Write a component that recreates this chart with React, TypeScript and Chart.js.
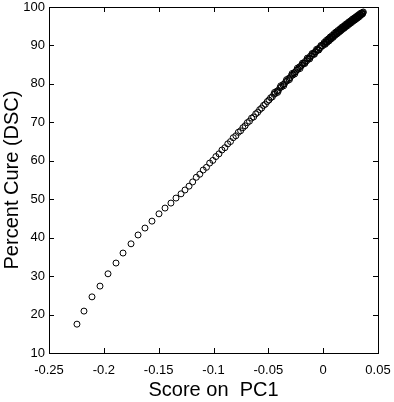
import { useEffect, useRef } from "react";
import { Chart, registerables } from "chart.js";

Chart.register(...registerables);

const xTickValues = [-0.25, -0.2, -0.15, -0.1, -0.05, 0, 0.05];
const xTickLabels = ["-0.25", "-0.2", "-0.15", "-0.1", "-0.05", "0", "0.05"];
const yTickValues = [10, 20, 30, 40, 50, 60, 70, 80, 90, 100];
const yTickLabels = ["10", "20", "30", "40", "50", "60", "70", "80", "90", "100"];

const xTitle = "Score on  PC1";
const yTitle = "Percent Cure (DSC)";

const scoreX = [
  -0.2245, -0.2181, -0.2108, -0.2035, -0.1962, -0.1889, -0.1825, -0.1752, -0.1688, -0.1625,
  -0.1561, -0.1497, -0.1442, -0.1388, -0.1342, -0.1296, -0.126, -0.1223,
  -0.119, -0.1157, -0.1125, -0.1094, -0.1064, -0.1035, -0.1006, -0.0978, -0.095, -0.0923,
  -0.0896, -0.087, -0.0845, -0.082, -0.0796,
  -0.0774, -0.0753, -0.0732, -0.0712, -0.0692, -0.0672, -0.0653, -0.0634, -0.0615, -0.0597,
  -0.0579, -0.0561, -0.0544, -0.0527, -0.051,
  -0.0494, -0.0479, -0.0464, -0.045, -0.0436, -0.0422, -0.0408, -0.0394, -0.038, -0.0367,
  -0.0354, -0.0341, -0.0328, -0.0315, -0.0302, -0.0289, -0.0277, -0.0265, -0.0253, -0.0241,
  -0.0229, -0.0217,
  -0.0205, -0.0194, -0.0183, -0.0172, -0.0161, -0.015, -0.0139, -0.0128, -0.0117, -0.0106,
  -0.0095, -0.0085, -0.0075, -0.0065, -0.0055, -0.0045, -0.0035, -0.0025, -0.0015, -0.0005,
  0.0005, 0.0014, 0.0023, 0.0032, 0.0041, 0.005, 0.0059, 0.0068, 0.0077, 0.0086,
  0.0095, 0.0104, 0.0113, 0.0122, 0.0131, 0.014, 0.0149, 0.0157, 0.0165, 0.0173,
  0.0181, 0.0189, 0.0197, 0.0205, 0.0213, 0.0221, 0.0229, 0.0237, 0.0245, 0.0253,
  0.0261, 0.0269, 0.0277, 0.0285, 0.0293, 0.03, 0.0307, 0.0314, 0.0321, 0.0328,
  0.0335, 0.0342, 0.0349, 0.0356, 0.0363,
];

const cureY = [
  17.5, 20.9, 24.6, 27.4, 30.6, 33.4, 36.0, 38.4, 40.7, 42.5,
  44.3, 46.2, 47.7, 49.0, 50.3, 51.4, 52.4, 53.4,
  54.5, 55.7, 56.5, 57.6, 58.3, 59.4, 60.1, 61.1, 61.8, 62.8,
  63.4, 64.4, 65.0, 66.0, 66.5,
  67.4, 67.8, 68.6, 69.1, 69.9, 70.3, 71.1, 71.4, 72.2, 72.6,
  73.3, 73.7, 74.4, 74.7, 75.4,
  75.8, 76.4, 76.6, 77.3, 77.5, 78.1, 78.3, 79.0, 79.2, 79.8,
  80.0, 80.6, 80.8, 81.4, 81.6, 82.2, 82.3, 82.9, 83.1, 83.6,
  83.8, 84.4,
  84.6, 84.9, 85.3, 85.4, 85.9, 86.0, 86.5, 86.7, 87.2, 87.3,
  87.8, 87.8, 88.3, 88.4, 88.8, 88.9, 89.4, 89.4, 89.9, 89.9,
  90.4, 90.4, 90.9, 90.9, 91.3, 91.3, 91.8, 91.8, 92.2, 92.2,
  92.6, 92.7, 93.1, 93.1, 93.5, 93.5, 93.9, 93.9, 94.3, 94.3,
  94.7, 94.6, 95.0, 95.0, 95.4, 95.4, 95.7, 95.7, 96.1, 96.1,
  96.4, 96.4, 96.8, 96.8, 97.1, 97.1, 97.4, 97.4, 97.7, 97.7,
  98.0, 97.9, 98.3, 98.2, 98.5,
];

// additional overlapping observations in the dense upper part of the curve
const extraX = [
  -0.0443, -0.0415, -0.0387, -0.036, -0.0334, -0.0308, -0.0283, -0.0259, -0.0235, -0.0211,
  -0.0189, -0.0167, -0.0145, -0.0123, -0.0101, -0.008, -0.006, -0.004, -0.002,
  0.001, 0.0019, 0.0028, 0.0037, 0.0046, 0.0055, 0.0064, 0.0073, 0.0082, 0.0091,
  0.01, 0.0108, 0.0117, 0.0126, 0.0135, 0.0144, 0.0153, 0.0161, 0.0169, 0.0177,
  0.0185, 0.0193, 0.0201, 0.0209, 0.0217, 0.0225, 0.0233, 0.0241, 0.0249, 0.0257,
  0.0265, 0.0273, 0.0281, 0.0289, 0.0296, 0.0303, 0.031, 0.0317, 0.0324, 0.0331,
  0.0338, 0.0345, 0.0352, 0.0359, 0.0366,
];

const extraY = [
  77.8, 77.8, 79.5, 79.5, 81.1, 81.1, 82.7, 82.6, 84.1, 84.0,
  85.4, 85.3, 86.7, 86.5, 87.9, 87.7, 89.0, 88.8, 90.0,
  90.8, 90.3, 91.3, 90.8, 91.7, 91.2, 92.2, 91.7, 92.6, 92.1,
  93.1, 92.6, 93.5, 93.0, 93.9, 93.4, 94.3, 93.8, 94.7, 94.2,
  95.0, 94.5, 95.4, 94.9, 95.7, 95.2, 96.1, 95.6, 96.4, 95.9,
  96.8, 96.3, 97.1, 96.6, 97.4, 96.9, 97.7, 97.2, 98.0, 97.5,
  98.3, 97.9, 98.5, 98.2, 98.7,
];

const FONT = "'Liberation Sans', Arial, Helvetica, sans-serif";

const framePlugin = {
  id: "frameTicks",
  afterDatasetsDraw(chart: any) {
    const { ctx, chartArea, scales } = chart;
    const l = Math.round(chartArea.left);
    const r = Math.round(chartArea.right);
    const t = Math.round(chartArea.top);
    const b = Math.round(chartArea.bottom);
    const tl = 5;
    ctx.save();
    ctx.strokeStyle = "#000";
    ctx.lineWidth = 1;
    ctx.strokeRect(l + 0.5, t + 0.5, r - l, b - t);
    ctx.beginPath();
    xTickValues.forEach((v) => {
      const px = Math.round(scales.x.getPixelForValue(v)) + 0.5;
      ctx.moveTo(px, b);
      ctx.lineTo(px, b - tl);
      ctx.moveTo(px, t);
      ctx.lineTo(px, t + tl);
    });
    yTickValues.forEach((v) => {
      const py = Math.round(scales.y.getPixelForValue(v)) + 0.5;
      ctx.moveTo(l, py);
      ctx.lineTo(l + tl, py);
      ctx.moveTo(r, py);
      ctx.lineTo(r - tl, py);
    });
    ctx.stroke();
    ctx.restore();
  },
};

const pointStyleOpts = {
  pointStyle: "circle",
  pointRadius: 3,
  pointBorderWidth: 1,
  pointBorderColor: "#000",
  pointBackgroundColor: "rgba(0,0,0,0)",
};

export default function App() {
  const ref = useRef<HTMLCanvasElement | null>(null);

  useEffect(() => {
    if (!ref.current) return;
    const points = scoreX.map((x, i) => ({ x, y: cureY[i] }));
    const extraPoints = extraX.map((x, i) => ({ x, y: extraY[i] }));
    const chart = new Chart(ref.current, {
      type: "scatter",
      data: {
        datasets: [
          { data: points, ...pointStyleOpts },
          { data: extraPoints, ...pointStyleOpts },
        ],
      },
      options: {
        responsive: false,
        animation: false,
        devicePixelRatio: 1,
        layout: { padding: 0 },
        plugins: {
          legend: { display: false },
          tooltip: { enabled: false },
        },
        scales: {
          x: {
            type: "linear",
            min: -0.25,
            max: 0.05,
            afterBuildTicks: (s: any) => {
              s.ticks = xTickValues.map((v) => ({ value: v }));
            },
            afterFit: (s: any) => {
              s.height = 49;
              s.paddingLeft = 0;
              s.paddingRight = 16;
            },
            grid: { display: false, drawTicks: false },
            border: { display: false },
            ticks: {
              padding: 11,
              color: "#000",
              maxRotation: 0,
              autoSkip: false,
              font: { family: FONT, size: 13, lineHeight: 1 },
              callback: (v: any) => {
                const i = xTickValues.findIndex((t) => Math.abs(t - Number(v)) < 1e-9);
                return i >= 0 ? xTickLabels[i] : "";
              },
            },
            title: {
              display: true,
              text: xTitle,
              color: "#000",
              padding: { top: 0, bottom: 0 },
              font: { family: FONT, size: 20, lineHeight: 1.2 },
            },
          },
          y: {
            type: "linear",
            min: 10,
            max: 100,
            afterBuildTicks: (s: any) => {
              s.ticks = yTickValues.map((v) => ({ value: v }));
            },
            afterFit: (s: any) => {
              s.width = 49;
              s.paddingTop = 7;
              s.paddingBottom = 0;
            },
            grid: { display: false, drawTicks: false },
            border: { display: false },
            ticks: {
              padding: 4,
              color: "#000",
              autoSkip: false,
              font: { family: FONT, size: 13, lineHeight: 1 },
              callback: (v: any) => {
                const i = yTickValues.findIndex((t) => Math.abs(t - Number(v)) < 1e-9);
                return i >= 0 ? yTickLabels[i] : "";
              },
            },
            title: {
              display: true,
              text: yTitle,
              color: "#000",
              padding: { top: 0, bottom: 0 },
              font: { family: FONT, size: 20, lineHeight: 1.2 },
            },
          },
        },
      },
      plugins: [framePlugin],
    } as any);
    return () => chart.destroy();
  }, []);

  return (
    <div style={{ position: "absolute", left: 0, top: 0, width: 394, height: 402, background: "#fff" }}>
      <canvas ref={ref} width={394} height={402} style={{ display: "block", width: 394, height: 402 }} />
    </div>
  );
}
